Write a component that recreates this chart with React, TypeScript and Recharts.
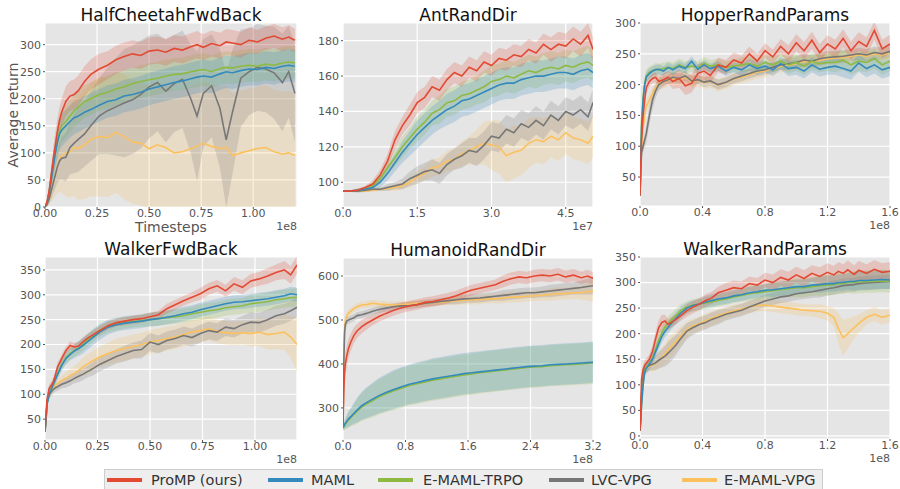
import { Area, CartesianGrid, ComposedChart, Line, XAxis, YAxis } from "recharts";

const seriesNames = ["ProMP (ours)", "MAML", "E-MAML-TRPO", "LVC-VPG", "E-MAML-VPG"];
const seriesColors = ["#E24A33", "#348ABD", "#8EBA42", "#777777", "#FBC15E"];

// HalfCheetahFwdBack (x in 1e8 timesteps)
const hcX = [0, 0.01, 0.02, 0.03, 0.04, 0.05, 0.06, 0.07, 0.08, 0.1, 0.12, 0.14, 0.16, 0.19, 0.22, 0.26, 0.3, 0.34, 0.38, 0.42, 0.46, 0.5, 0.54, 0.58, 0.62, 0.66, 0.7, 0.73, 0.76, 0.8, 0.84, 0.87, 0.9, 0.94, 0.98, 1.02, 1.06, 1.1, 1.14, 1.17, 1.2];
const hcProMP = [0, 10, 30, 60, 90, 115, 140, 160, 175, 195, 205, 208, 215, 232, 245, 255, 262, 272, 278, 283, 280, 288, 290, 286, 293, 290, 296, 300, 295, 302, 298, 305, 303, 300, 308, 305, 312, 316, 310, 314, 308];
const hcProMPSd = [0, 5, 10, 15, 20, 25, 25, 25, 25, 28, 28, 28, 28, 28, 28, 28, 26, 26, 26, 25, 25, 25, 25, 25, 25, 25, 25, 25, 24, 24, 24, 24, 24, 24, 24, 22, 22, 22, 22, 22, 22];
const hcMaml = [0, 8, 25, 50, 75, 100, 120, 135, 142, 150, 158, 165, 168, 175, 180, 188, 195, 198, 205, 208, 212, 218, 222, 226, 230, 233, 237, 240, 242, 240, 246, 250, 248, 252, 255, 254, 258, 256, 260, 262, 260];
const hcMamlSd = [0, 5, 10, 15, 20, 25, 28, 30, 30, 30, 30, 30, 30, 30, 30, 30, 30, 30, 30, 30, 30, 30, 30, 30, 30, 30, 30, 30, 30, 30, 30, 30, 30, 30, 30, 30, 30, 30, 30, 30, 30];
const hcTrpo = [0, 9, 28, 55, 82, 105, 125, 140, 150, 158, 168, 178, 185, 195, 200, 208, 212, 218, 222, 228, 232, 235, 238, 242, 245, 246, 250, 252, 254, 250, 256, 258, 257, 260, 262, 260, 264, 262, 266, 268, 266];
const hcTrpoSd = [0, 5, 10, 15, 20, 25, 28, 30, 30, 30, 30, 30, 30, 30, 30, 30, 30, 30, 30, 30, 30, 30, 30, 30, 30, 30, 30, 30, 30, 30, 30, 30, 30, 30, 30, 30, 30, 30, 30, 30, 30];
const hcLvc = [0, 5, 15, 30, 45, 60, 75, 85, 90, 92, 110, 118, 125, 135, 150, 168, 178, 185, 192, 198, 208, 222, 230, 214, 228, 236, 200, 168, 210, 224, 182, 124, 175, 238, 250, 258, 255, 248, 230, 250, 210];
const hcLvcSd = [0, 5, 10, 15, 20, 25, 30, 35, 40, 45, 50, 55, 60, 60, 65, 70, 80, 90, 100, 100, 100, 95, 90, 95, 90, 90, 100, 120, 100, 95, 110, 125, 115, 90, 80, 80, 80, 85, 90, 85, 90];
const hcVpg = [0, 5, 15, 30, 45, 60, 75, 88, 95, 100, 102, 110, 108, 115, 125, 130, 128, 138, 130, 120, 118, 108, 115, 110, 100, 102, 108, 112, 118, 112, 108, 110, 95, 100, 104, 108, 110, 102, 98, 100, 95];
const hcVpgSd = [0, 5, 10, 20, 30, 40, 50, 60, 70, 80, 85, 90, 95, 100, 105, 110, 110, 112, 115, 115, 115, 115, 115, 115, 115, 115, 115, 115, 115, 115, 115, 115, 115, 115, 115, 115, 115, 115, 115, 115, 115];

// AntRandDir (x in 1e7 timesteps)
const antX = [0, 0.15, 0.3, 0.45, 0.6, 0.75, 0.9, 1.05, 1.2, 1.35, 1.5, 1.65, 1.8, 1.95, 2.1, 2.25, 2.4, 2.55, 2.7, 2.85, 3.0, 3.15, 3.3, 3.45, 3.6, 3.75, 3.9, 4.05, 4.2, 4.35, 4.5, 4.65, 4.8, 4.95, 5.05];
const antProMP = [95, 95, 95.5, 97, 99, 104, 112, 124, 132, 138, 145, 148, 154, 152, 158, 162, 160, 165, 163, 168, 166, 170, 169, 172, 171, 175, 173, 178, 175, 178, 177, 181, 178, 183, 175];
const antProMPSd = [0.5, 0.5, 1, 1, 2, 3, 4, 5, 5, 6, 6, 6, 6, 6, 6, 6, 6, 6, 6, 6, 6, 6, 6, 6, 6, 6, 6, 6, 7, 7, 7, 7, 7, 7, 7];
const antMaml = [95, 95, 95.5, 96, 97, 100, 105, 111, 117, 122, 127, 131, 135, 138, 141, 143, 146, 147, 149, 151, 153, 155, 156, 156, 158, 159, 160, 160, 161, 162, 162, 161, 163, 164, 162];
const antMamlSd = [0.5, 0.5, 1, 1, 2, 3, 4, 5, 6, 7, 8, 8, 8, 8, 9, 9, 9, 9, 9, 9, 9, 9, 9, 9, 9, 9, 9, 9, 9, 9, 9, 9, 9, 9, 9];
const antTrpo = [95, 95, 95.5, 96.5, 98, 102, 108, 114, 120, 125, 130, 134, 139, 141, 145, 146, 149, 150, 152, 154, 157, 158, 160, 159, 161, 163, 162, 164, 165, 164, 166, 165, 167, 168, 166];
const antTrpoSd = [0.5, 0.5, 1, 1, 2, 3, 4, 5, 6, 6, 7, 7, 7, 8, 8, 8, 8, 8, 8, 9, 9, 9, 9, 9, 9, 9, 9, 9, 9, 9, 9, 9, 9, 9, 9];
const antLvc = [95, 95, 95, 95.5, 96, 96, 97, 98, 99, 102, 104, 106, 107, 105, 110, 113, 115, 118, 117, 121, 126, 125, 130, 128, 133, 131, 135, 132, 138, 135, 140, 138, 141, 137, 145];
const antLvcSd = [0.5, 0.5, 1, 1, 1, 1, 2, 2, 3, 4, 5, 5, 6, 6, 6, 6, 7, 7, 8, 8, 8, 8, 8, 8, 8, 8, 8, 8, 8, 8, 8, 8, 8, 8, 8];
const antVpg = [95, 95, 95, 95, 95.5, 96, 96.5, 97, 98, 100, 103, 105, 108, 109, 112, 113, 116, 118, 120, 122, 121, 120, 115, 117, 118, 122, 124, 123, 126, 124, 128, 125, 124, 122, 126];
const antVpgSd = [0.5, 0.5, 0.5, 0.5, 1, 1, 1, 2, 2, 3, 3, 4, 5, 5, 6, 6, 7, 8, 10, 12, 14, 15, 15, 15, 14, 14, 13, 13, 12, 12, 12, 12, 12, 12, 12];

// HopperRandParams (x in 1e8 timesteps)
const hopX = [0, 0.005, 0.01, 0.02, 0.03, 0.04, 0.06, 0.08, 0.1, 0.12, 0.15, 0.18, 0.21, 0.25, 0.29, 0.33, 0.37, 0.41, 0.45, 0.5, 0.55, 0.6, 0.65, 0.7, 0.75, 0.8, 0.85, 0.9, 0.95, 1.0, 1.05, 1.1, 1.15, 1.2, 1.25, 1.3, 1.35, 1.4, 1.45, 1.5, 1.55, 1.6];
const hopProMP = [20, 70, 110, 150, 175, 195, 205, 210, 212, 205, 208, 212, 205, 210, 198, 202, 218, 222, 215, 232, 228, 240, 235, 250, 238, 255, 245, 262, 250, 268, 255, 272, 252, 266, 258, 275, 255, 270, 262, 288, 258, 266];
const hopProMPSd = [3, 8, 10, 12, 12, 10, 8, 8, 8, 8, 10, 10, 12, 15, 15, 15, 15, 15, 12, 12, 12, 12, 12, 12, 12, 12, 12, 12, 14, 14, 14, 14, 14, 14, 15, 15, 15, 15, 15, 15, 15, 15];
const hopMaml = [20, 80, 130, 175, 200, 212, 218, 222, 224, 225, 222, 228, 224, 230, 226, 238, 225, 232, 226, 230, 222, 228, 224, 232, 226, 230, 224, 234, 226, 228, 222, 232, 225, 228, 230, 226, 222, 235, 226, 232, 224, 228];
const hopMamlSd = [3, 8, 10, 10, 10, 8, 8, 8, 8, 8, 8, 8, 8, 8, 8, 8, 8, 8, 8, 8, 8, 8, 10, 10, 10, 10, 10, 10, 12, 12, 12, 12, 12, 12, 14, 14, 14, 14, 14, 14, 14, 14];
const hopTrpo = [20, 85, 140, 180, 202, 214, 220, 222, 225, 224, 226, 228, 226, 232, 228, 230, 228, 235, 230, 232, 228, 230, 232, 234, 230, 236, 232, 238, 232, 236, 230, 238, 234, 236, 236, 240, 232, 238, 236, 242, 232, 238];
const hopTrpoSd = [3, 10, 12, 12, 10, 10, 10, 10, 10, 10, 10, 10, 10, 10, 10, 10, 10, 10, 10, 10, 10, 10, 12, 12, 12, 12, 12, 12, 14, 14, 14, 14, 14, 14, 16, 16, 16, 16, 16, 16, 16, 16];
const hopLvc = [20, 60, 90, 100, 110, 120, 150, 175, 190, 200, 205, 208, 212, 210, 214, 206, 208, 204, 206, 200, 204, 210, 214, 218, 222, 224, 228, 232, 234, 236, 240, 238, 242, 244, 245, 246, 248, 250, 248, 252, 250, 254];
const hopLvcSd = [3, 5, 8, 10, 12, 15, 15, 15, 12, 10, 8, 8, 8, 8, 8, 8, 8, 8, 8, 8, 8, 8, 8, 8, 8, 8, 8, 8, 10, 10, 10, 10, 10, 10, 10, 10, 10, 10, 10, 10, 10, 10];
const hopVpg = [20, 65, 100, 130, 150, 165, 175, 185, 195, 202, 204, 207, 210, 208, 212, 205, 207, 203, 205, 199, 203, 209, 212, 216, 220, 222, 226, 230, 232, 234, 238, 236, 240, 242, 243, 244, 246, 248, 246, 250, 248, 252];
const hopVpgSd = [3, 8, 10, 10, 10, 10, 10, 10, 10, 10, 10, 10, 10, 10, 10, 10, 10, 10, 10, 10, 10, 10, 10, 10, 10, 10, 10, 10, 10, 10, 10, 10, 10, 10, 10, 10, 10, 10, 10, 10, 10, 10];

// WalkerFwdBack (x in 1e8 timesteps)
const wfbX = [0, 0.005, 0.01, 0.02, 0.03, 0.04, 0.05, 0.06, 0.08, 0.1, 0.12, 0.14, 0.16, 0.18, 0.2, 0.23, 0.26, 0.3, 0.34, 0.38, 0.42, 0.46, 0.5, 0.54, 0.58, 0.62, 0.66, 0.7, 0.74, 0.78, 0.82, 0.86, 0.9, 0.94, 0.98, 1.02, 1.06, 1.1, 1.14, 1.17, 1.2];
const wfbProMP = [25, 60, 90, 112, 118, 125, 140, 155, 172, 188, 198, 195, 197, 205, 212, 220, 228, 238, 244, 247, 250, 252, 256, 260, 272, 280, 288, 295, 302, 312, 318, 308, 322, 315, 328, 332, 338, 345, 350, 340, 360];
const wfbProMPSd = [3, 6, 8, 8, 8, 8, 8, 8, 8, 8, 8, 8, 8, 8, 8, 8, 8, 8, 8, 8, 8, 8, 8, 8, 10, 10, 10, 10, 12, 12, 12, 12, 14, 14, 14, 14, 16, 16, 18, 18, 18];
const wfbMaml = [25, 50, 80, 100, 110, 120, 130, 140, 158, 172, 180, 187, 192, 198, 205, 215, 225, 235, 240, 243, 245, 247, 250, 252, 255, 258, 262, 265, 270, 274, 278, 282, 285, 286, 288, 290, 292, 295, 298, 302, 300];
const wfbMamlSd = [3, 5, 8, 10, 10, 10, 10, 10, 10, 12, 12, 14, 15, 16, 16, 16, 16, 15, 14, 14, 14, 14, 14, 14, 14, 14, 14, 14, 14, 14, 14, 14, 14, 14, 14, 14, 14, 14, 14, 14, 14];
const wfbTrpo = [25, 52, 82, 102, 112, 122, 132, 142, 160, 174, 182, 188, 193, 200, 207, 218, 228, 236, 240, 244, 246, 248, 250, 252, 254, 256, 258, 262, 265, 268, 270, 274, 276, 278, 282, 284, 286, 290, 292, 294, 295];
const wfbTrpoSd = [3, 5, 8, 10, 10, 10, 10, 10, 10, 12, 12, 12, 12, 12, 12, 12, 12, 12, 12, 12, 12, 12, 14, 14, 14, 14, 14, 14, 16, 16, 16, 16, 16, 16, 18, 18, 18, 18, 18, 18, 18];
const wfbLvc = [25, 50, 85, 100, 105, 110, 113, 115, 120, 123, 127, 132, 136, 140, 145, 152, 160, 168, 176, 182, 188, 190, 205, 200, 208, 212, 218, 214, 222, 228, 225, 235, 232, 240, 245, 244, 250, 258, 262, 268, 275];
const wfbLvcSd = [3, 5, 8, 8, 8, 8, 8, 8, 8, 10, 10, 10, 12, 12, 12, 14, 14, 14, 14, 16, 16, 18, 18, 18, 18, 18, 18, 18, 18, 18, 18, 18, 18, 18, 20, 20, 20, 20, 20, 20, 20];
const wfbVpg = [25, 55, 85, 100, 108, 112, 118, 122, 128, 132, 138, 142, 148, 155, 160, 168, 175, 182, 188, 192, 196, 200, 205, 208, 212, 215, 220, 225, 228, 232, 226, 224, 222, 224, 222, 225, 220, 222, 225, 215, 200];
const wfbVpgSd = [3, 5, 8, 8, 8, 8, 8, 8, 10, 12, 14, 15, 16, 18, 20, 20, 20, 22, 24, 24, 24, 24, 24, 24, 24, 24, 24, 24, 24, 24, 24, 24, 24, 24, 26, 28, 30, 32, 36, 42, 55];

// HumanoidRandDir (x in 1e8 timesteps)
const humX = [0, 0.01, 0.02, 0.03, 0.05, 0.07, 0.1, 0.14, 0.18, 0.24, 0.3, 0.38, 0.46, 0.55, 0.65, 0.75, 0.85, 0.95, 1.05, 1.15, 1.25, 1.35, 1.45, 1.55, 1.65, 1.75, 1.85, 1.95, 2.05, 2.15, 2.25, 2.35, 2.45, 2.55, 2.65, 2.75, 2.85, 2.95, 3.05, 3.13, 3.2];
const humProMP = [260, 340, 380, 400, 420, 435, 450, 465, 475, 485, 492, 500, 508, 515, 522, 528, 532, 535, 540, 542, 546, 550, 555, 562, 568, 572, 576, 580, 588, 594, 598, 596, 600, 602, 600, 604, 598, 602, 596, 600, 595];
const humProMPSd = [10, 20, 25, 25, 25, 22, 20, 18, 16, 15, 14, 12, 12, 12, 12, 12, 12, 12, 12, 12, 12, 12, 12, 12, 12, 12, 12, 12, 14, 14, 14, 14, 14, 14, 14, 14, 14, 14, 14, 14, 14];
const humMaml = [255, 258, 262, 265, 270, 275, 280, 288, 295, 305, 312, 320, 328, 335, 342, 348, 354, 358, 362, 366, 369, 372, 375, 378, 380, 382, 384, 386, 388, 390, 392, 394, 395, 396, 398, 399, 400, 401, 402, 403, 404];
const humMamlSd = [5, 8, 10, 12, 15, 18, 20, 24, 28, 32, 35, 38, 40, 42, 44, 45, 45, 46, 46, 47, 47, 47, 47, 47, 47, 47, 47, 47, 47, 47, 47, 47, 47, 47, 47, 47, 47, 47, 47, 47, 47];
const humTrpo = [255, 257, 260, 263, 268, 272, 278, 285, 292, 302, 309, 317, 325, 332, 339, 345, 351, 355, 359, 363, 366, 369, 372, 375, 377, 380, 382, 384, 386, 388, 390, 392, 393, 394, 396, 397, 398, 399, 400, 401, 402];
const humTrpoSd = [5, 8, 10, 12, 15, 18, 20, 24, 28, 32, 35, 38, 40, 42, 44, 45, 45, 46, 46, 47, 47, 47, 47, 47, 47, 47, 47, 47, 47, 47, 47, 47, 47, 47, 47, 47, 47, 47, 47, 47, 47];
const humLvc = [260, 400, 470, 490, 498, 500, 502, 505, 510, 512, 515, 520, 524, 527, 530, 532, 533, 535, 538, 540, 542, 544, 546, 548, 549, 550, 552, 554, 556, 558, 560, 562, 562, 564, 566, 568, 570, 572, 574, 576, 578];
const humLvcSd = [10, 15, 15, 12, 10, 8, 8, 8, 8, 8, 8, 8, 8, 8, 8, 8, 8, 8, 8, 8, 8, 8, 10, 10, 10, 10, 10, 10, 12, 12, 12, 12, 12, 12, 14, 14, 14, 14, 16, 18, 20];
const humVpg = [260, 420, 480, 500, 510, 515, 520, 526, 530, 534, 535, 538, 536, 535, 534, 535, 536, 538, 538, 540, 540, 542, 544, 545, 546, 546, 548, 548, 550, 552, 552, 554, 555, 556, 558, 560, 560, 562, 562, 564, 566];
const humVpgSd = [10, 15, 12, 10, 8, 8, 8, 8, 8, 8, 8, 8, 8, 8, 8, 8, 8, 8, 8, 8, 8, 8, 10, 10, 10, 10, 10, 10, 12, 12, 12, 12, 12, 12, 14, 14, 14, 14, 16, 20, 25];

// WalkerRandParams (x in 1e8 timesteps)
const wrpX = [0, 0.005, 0.01, 0.02, 0.03, 0.04, 0.06, 0.08, 0.1, 0.12, 0.14, 0.16, 0.18, 0.2, 0.23, 0.26, 0.3, 0.34, 0.38, 0.42, 0.46, 0.5, 0.55, 0.6, 0.65, 0.7, 0.75, 0.8, 0.85, 0.9, 0.95, 1.0, 1.05, 1.1, 1.15, 1.2, 1.24, 1.27, 1.3, 1.33, 1.37, 1.4, 1.45, 1.5, 1.55, 1.6];
const wrpProMP = [10, 60, 110, 130, 138, 142, 150, 165, 190, 212, 222, 225, 218, 222, 228, 235, 245, 252, 258, 265, 270, 280, 285, 290, 288, 298, 295, 305, 300, 310, 305, 315, 308, 318, 312, 320, 315, 322, 318, 325, 316, 324, 318, 326, 320, 322];
const wrpProMPSd = [3, 8, 10, 10, 10, 10, 10, 12, 14, 15, 15, 12, 10, 10, 10, 10, 12, 12, 12, 12, 12, 12, 14, 14, 14, 14, 14, 14, 16, 16, 16, 16, 16, 16, 18, 18, 18, 18, 18, 18, 18, 18, 18, 18, 18, 18];
const wrpMaml = [10, 30, 60, 100, 125, 132, 140, 150, 165, 180, 195, 205, 212, 220, 230, 240, 250, 255, 258, 262, 265, 268, 270, 274, 276, 280, 282, 285, 286, 288, 290, 292, 292, 295, 296, 298, 298, 300, 300, 302, 302, 304, 304, 305, 306, 305];
const wrpMamlSd = [3, 6, 8, 10, 10, 10, 10, 10, 12, 12, 12, 12, 12, 12, 12, 12, 10, 10, 10, 12, 12, 12, 12, 12, 12, 12, 12, 12, 14, 14, 14, 14, 14, 14, 16, 16, 16, 16, 16, 16, 18, 18, 18, 18, 18, 18];
const wrpTrpo = [10, 32, 65, 105, 128, 134, 142, 152, 170, 188, 202, 212, 220, 226, 235, 245, 252, 256, 258, 260, 262, 265, 268, 272, 275, 278, 280, 282, 284, 286, 288, 290, 290, 292, 294, 295, 296, 298, 298, 300, 300, 301, 302, 302, 303, 302];
const wrpTrpoSd = [3, 6, 8, 10, 10, 10, 10, 10, 12, 14, 14, 14, 14, 14, 14, 12, 12, 12, 12, 12, 12, 12, 12, 12, 12, 14, 14, 14, 16, 16, 16, 18, 18, 18, 20, 20, 20, 20, 20, 20, 22, 22, 22, 22, 22, 22];
const wrpLvc = [10, 40, 80, 120, 130, 134, 138, 140, 143, 148, 152, 156, 162, 168, 178, 190, 205, 212, 218, 222, 228, 232, 238, 242, 246, 252, 258, 264, 268, 272, 274, 278, 280, 282, 285, 288, 290, 292, 294, 295, 296, 298, 299, 300, 301, 302];
const wrpLvcSd = [3, 5, 8, 10, 10, 10, 10, 12, 14, 16, 18, 20, 22, 22, 20, 18, 16, 14, 14, 14, 14, 14, 12, 12, 12, 12, 12, 12, 12, 12, 12, 12, 12, 12, 14, 14, 14, 14, 14, 14, 14, 14, 14, 14, 14, 14];
const wrpVpg = [10, 40, 80, 118, 128, 132, 136, 138, 142, 148, 154, 160, 168, 175, 185, 195, 208, 215, 220, 225, 230, 235, 240, 245, 248, 252, 255, 256, 254, 252, 250, 248, 246, 245, 244, 240, 232, 210, 192, 200, 212, 220, 232, 238, 232, 236];
const wrpVpgSd = [3, 5, 8, 10, 10, 10, 10, 12, 14, 16, 18, 20, 22, 22, 20, 18, 16, 14, 14, 14, 14, 14, 12, 12, 12, 12, 12, 12, 12, 12, 12, 12, 12, 12, 14, 14, 18, 30, 35, 30, 22, 18, 14, 14, 14, 14];

const panels = [
  {
    title: "HalfCheetahFwdBack", exp: "1e8", xs: hcX,
    means: [hcProMP, hcMaml, hcTrpo, hcLvc, hcVpg], sds: [hcProMPSd, hcMamlSd, hcTrpoSd, hcLvcSd, hcVpgSd],
    xDomain: [0, 1.21], yDomain: [0, 340], xTicks: [0, 0.25, 0.5, 0.75, 1.0], yTicks: [0, 50, 100, 150, 200, 250, 300], digits: 2,
    box: { left: 45, top: 23, w: 252, h: 184 },
  },
  {
    title: "AntRandDir", exp: "1e7", xs: antX,
    means: [antProMP, antMaml, antTrpo, antLvc, antVpg], sds: [antProMPSd, antMamlSd, antTrpoSd, antLvcSd, antVpgSd],
    xDomain: [0, 5.05], yDomain: [86, 190], xTicks: [0, 1.5, 3.0, 4.5], yTicks: [100, 120, 140, 160, 180], digits: 1,
    box: { left: 343, top: 23, w: 250, h: 184 },
  },
  {
    title: "HopperRandParams", exp: "1e8", xs: hopX,
    means: [hopProMP, hopMaml, hopTrpo, hopLvc, hopVpg], sds: [hopProMPSd, hopMamlSd, hopTrpoSd, hopLvcSd, hopVpgSd],
    xDomain: [0, 1.6], yDomain: [3, 300], xTicks: [0, 0.4, 0.8, 1.2, 1.6], yTicks: [50, 100, 150, 200, 250, 300], digits: 1,
    box: { left: 640, top: 23, w: 250, h: 183 },
  },
  {
    title: "WalkerFwdBack", exp: "1e8", xs: wfbX,
    means: [wfbProMP, wfbMaml, wfbTrpo, wfbLvc, wfbVpg], sds: [wfbProMPSd, wfbMamlSd, wfbTrpoSd, wfbLvcSd, wfbVpgSd],
    xDomain: [0, 1.2], yDomain: [8, 376], xTicks: [0, 0.25, 0.5, 0.75, 1.0], yTicks: [50, 100, 150, 200, 250, 300, 350], digits: 2,
    box: { left: 45, top: 257, w: 252, h: 183 },
  },
  {
    title: "HumanoidRandDir", exp: "1e8", xs: humX,
    means: [humProMP, humMaml, humTrpo, humLvc, humVpg], sds: [humProMPSd, humMamlSd, humTrpoSd, humLvcSd, humVpgSd],
    xDomain: [0, 3.2], yDomain: [227, 641], xTicks: [0, 0.8, 1.6, 2.4, 3.2], yTicks: [300, 400, 500, 600], digits: 1,
    box: { left: 343, top: 258, w: 250, h: 182 },
  },
  {
    title: "WalkerRandParams", exp: "1e8", xs: wrpX,
    means: [wrpProMP, wrpMaml, wrpTrpo, wrpLvc, wrpVpg], sds: [wrpProMPSd, wrpMamlSd, wrpTrpoSd, wrpLvcSd, wrpVpgSd],
    xDomain: [0, 1.6], yDomain: [-6, 350], xTicks: [0, 0.4, 0.8, 1.2, 1.6], yTicks: [0, 50, 100, 150, 200, 250, 300, 350], digits: 1,
    box: { left: 640, top: 257, w: 250, h: 182 },
  },
];

const legendPos = [
  { line: 107, text: 151 },
  { line: 268, text: 311 },
  { line: 378, text: 423 },
  { line: 549, text: 591 },
  { line: 682, text: 724 },
];

const font = "'DejaVu Sans', sans-serif";
const drawOrder = [4, 3, 2, 1, 0];

function Panel({ p }: { p: (typeof panels)[number] }) {
  const rows = p.xs.map((x, i) => {
    const r: Record<string, any> = { x };
    p.means.forEach((m, k) => {
      const sd = p.sds[k][i] ?? 0;
      r["m" + k] = m[i];
      r["b" + k] = [m[i] - sd, m[i] + sd];
    });
    return r;
  });
  const { left, top, w, h } = p.box;
  const width = w + 45 + 10;
  const height = h + 5 + 20;
  return (
    <div style={{ position: "absolute", left: left - 45, top: top - 5, width, height }}>
      <ComposedChart width={width} height={height} data={rows} margin={{ top: 5, right: 10, left: 0, bottom: 0 }}>
        <CartesianGrid fill="#E5E5E5" stroke="#FFFFFF" strokeWidth={1.2} />
        <XAxis
          dataKey="x" type="number" domain={p.xDomain} ticks={p.xTicks} allowDataOverflow
          height={20} axisLine={false} tickSize={2} tickMargin={0} tickLine={{ stroke: "#555" }}
          tick={{ fontSize: 11, fill: "#555", fontFamily: font }}
          tickFormatter={(v: number) => v.toFixed(p.digits)}
          interval={0}
        />
        <YAxis
          type="number" domain={p.yDomain} ticks={p.yTicks} allowDataOverflow
          width={45} axisLine={false} tickSize={2} tickMargin={2} tickLine={{ stroke: "#555" }}
          tick={{ fontSize: 11, fill: "#555", fontFamily: font }}
          interval={0}
        />
        {drawOrder.map((k) => (
          <Area key={"b" + k} dataKey={"b" + k} type="linear" stroke="none" fill={seriesColors[k]} fillOpacity={0.22} isAnimationActive={false} />
        ))}
        {drawOrder.map((k) => (
          <Line key={"m" + k} dataKey={"m" + k} type="linear" stroke={seriesColors[k]} strokeWidth={1.6} dot={false} isAnimationActive={false} />
        ))}
      </ComposedChart>
    </div>
  );
}

export default function App() {
  return (
    <div style={{ position: "absolute", left: 0, top: 0, width: 900, height: 489, background: "#fff", overflow: "hidden", fontFamily: font }}>
      {panels.map((p) => (
        <Panel key={p.title} p={p} />
      ))}
      <svg width={900} height={489} style={{ position: "absolute", left: 0, top: 0, pointerEvents: "none" }}>
        {panels.map((p) => {
          const { left, top, w, h } = p.box;
          return (
            <g key={p.title}>
              <text x={left + w / 2} y={top - 2} textAnchor="middle" fontSize={17} fill="#111" fontFamily={font}>{p.title}</text>
              <text x={left + w} y={top + h + 23} textAnchor="end" fontSize={11} fill="#555" fontFamily={font}>{p.exp}</text>
            </g>
          );
        })}
        <text x={171} y={232} textAnchor="middle" fontSize={14} fill="#555" fontFamily={font}>Timesteps</text>
        <text transform="translate(18,115) rotate(-90)" textAnchor="middle" fontSize={14} fill="#555" fontFamily={font}>Average return</text>
        <rect x={104.5} y={469.5} width={718} height={30} fill="#EEEEEE" stroke="#CCCCCC" strokeWidth={1} />
        {seriesNames.map((name, k) => (
          <g key={name}>
            <line x1={legendPos[k].line} x2={legendPos[k].line + 35} y1={480} y2={480} stroke={seriesColors[k]} strokeWidth={4} />
            <text x={legendPos[k].text} y={485} fontSize={14.5} fill="#333" fontFamily={font}>{name}</text>
          </g>
        ))}
      </svg>
    </div>
  );
}
